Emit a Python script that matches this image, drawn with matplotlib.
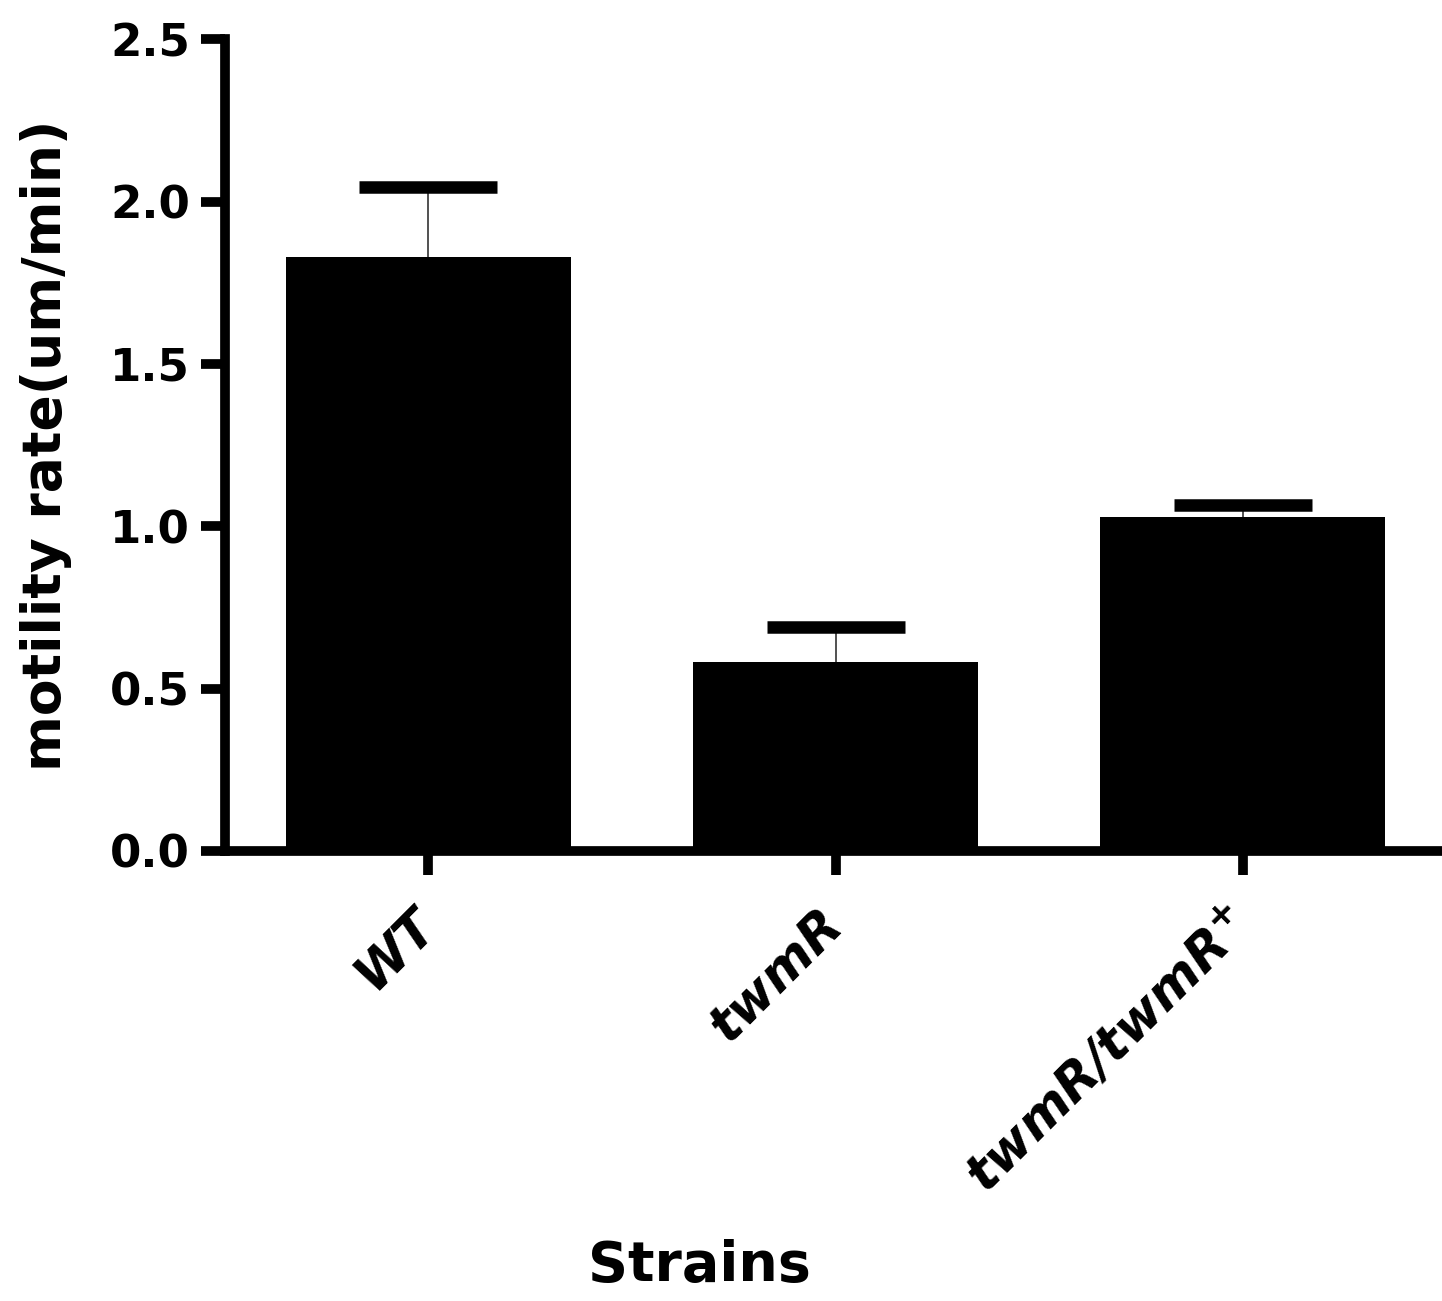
import numpy as np
import matplotlib
matplotlib.use("Agg")
import matplotlib.pyplot as plt

# data
strains = ['WT', 'twmR', r'twmR/twmR$^{+}$']
motility = [1.83, 0.583, 1.03]
upper_err = [0.215, 0.108, 0.035]
yticks = [0.0, 0.5, 1.0, 1.5, 2.0, 2.5]

plt.rcParams['font.family'] = ['DejaVu Sans']
plt.rcParams['font.weight'] = 'bold'
plt.rcParams['mathtext.default'] = 'regular'

fig = plt.figure(figsize=(14.42, 13.01), dpi=100)
ax = fig.add_axes([0.156, 0.3459, 0.844, 0.6239])

x = np.arange(len(strains))
ax.bar(x, motility, width=0.7, color='black', zorder=3)

# upper-only error bars; hide the lower cap that sits on the bar top
eb = ax.errorbar(x, motility, yerr=[np.zeros(len(x)), upper_err], fmt='none',
                 ecolor='black', elinewidth=1.2, capsize=50, capthick=9, zorder=2)
eb[1][0].set_visible(False)
eb[2][0].set_color('#333333')

ax.set_xlim(-0.5, 2.49)
ax.set_ylim(0, 2.5)
ax.set_yticks(yticks)
ax.set_yticklabels(['%.1f' % t for t in yticks], fontsize=32.5, fontweight='bold')
ax.set_xticks(x)
ax.set_xticklabels(strains, fontsize=37, fontweight='bold', fontstyle='italic',
                   rotation=45, ha='right', va='center', rotation_mode='anchor')

for s in ['top', 'right']:
    ax.spines[s].set_visible(False)
for s in ['left', 'bottom']:
    ax.spines[s].set_linewidth(7)
ax.tick_params(axis='both', length=17, width=7, direction='out')
ax.tick_params(axis='y', pad=8)
ax.tick_params(axis='x', pad=31)

ax.set_ylabel('motility rate(um/min)', fontsize=38.5, fontweight='bold')
ax.yaxis.set_label_coords(-0.1257, 0.5)
ax.set_xlabel('Strains', fontsize=40, fontweight='bold')
ax.xaxis.set_label_coords(0.39, -0.478)

fig.savefig('out.png', dpi=100)
